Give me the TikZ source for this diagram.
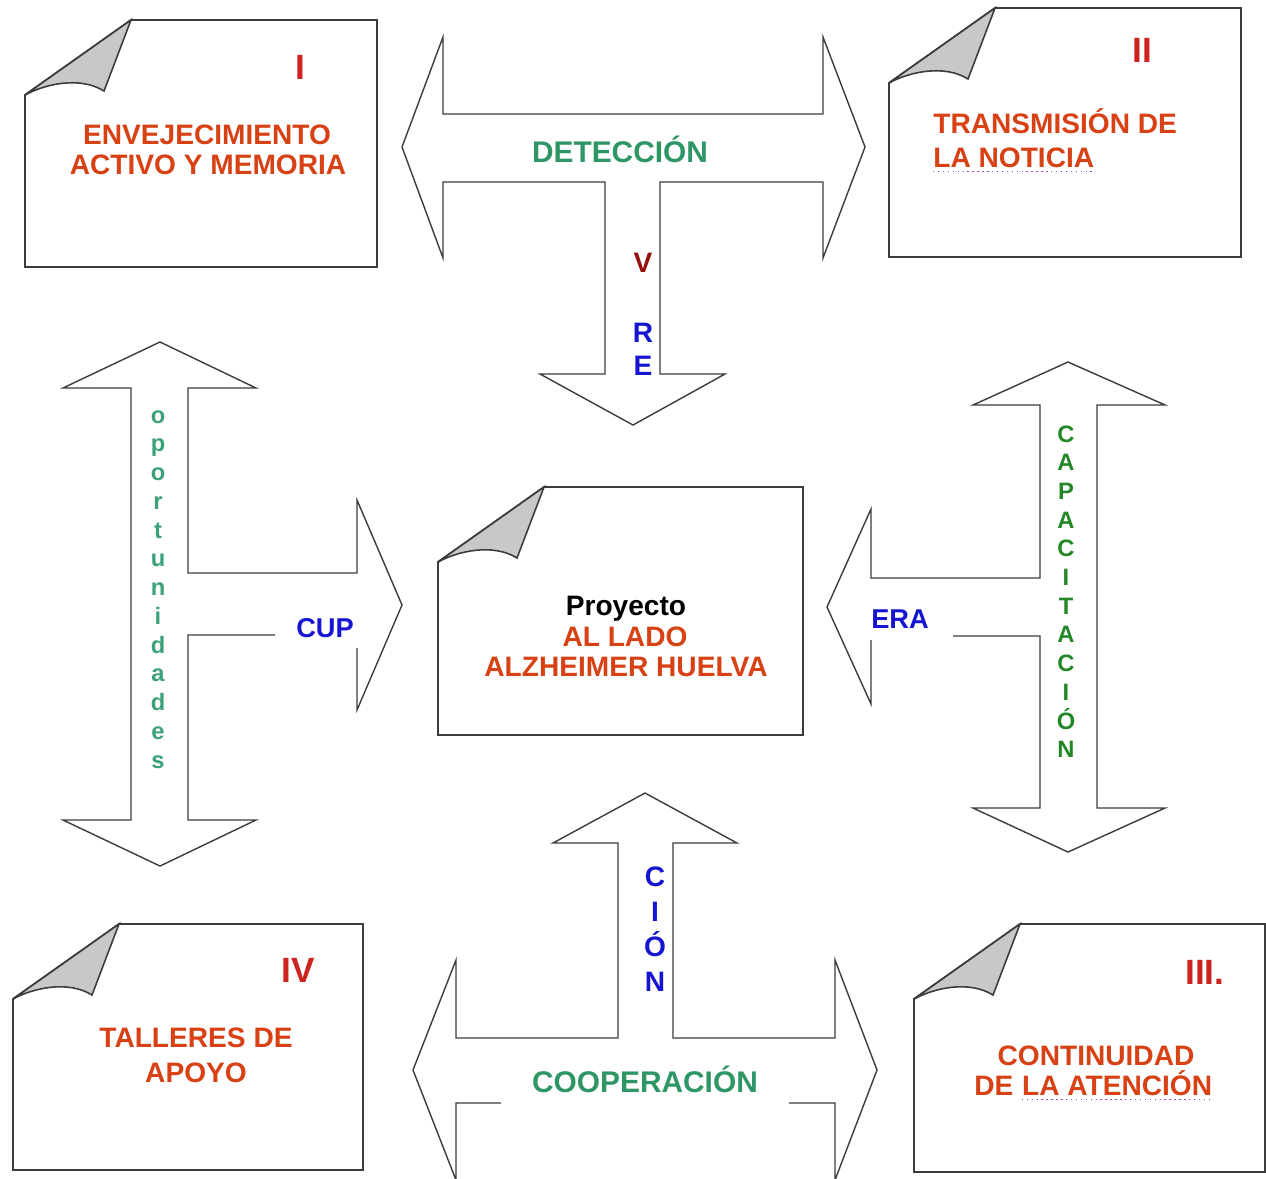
\documentclass[tikz,border=0pt]{standalone}
\usepackage{fontspec}
\setmainfont{Liberation Sans}
\usetikzlibrary{calc}

\definecolor{pagered}{RGB}{215,65,20}
\definecolor{numred}{RGB}{205,35,30}
\definecolor{seagreen}{RGB}{46,150,100}
\definecolor{oppgreen}{RGB}{60,160,120}
\definecolor{capgreen}{RGB}{35,135,40}
\definecolor{lblblue}{RGB}{20,20,210}
\definecolor{vred}{RGB}{150,15,15}
\definecolor{foldgray}{RGB}{200,200,200}
\definecolor{edgegray}{RGB}{60,60,60}
\definecolor{spellpurple}{RGB}{160,70,200}

\tikzset{
	pageline/.style={draw=edgegray, line width=1.1pt, line join=miter},
	foldline/.style={draw=edgegray, line width=0.9pt, fill=foldgray},
	blockarrow/.style={draw=edgegray, line width=0.8pt, line join=miter},
	pagetext/.style={inner sep=0pt, anchor=base, text=pagered, font=\fontsize{16}{16.5}\selectfont\bfseries},
	numtext/.style={inner sep=0pt, anchor=base, text=numred, font=\fontsize{20}{22}\selectfont\bfseries},
	flowtext/.style={inner sep=0pt, anchor=base, text=seagreen, font=\fontsize{17}{18}\selectfont\bfseries},
	vertletter/.style={inner sep=0pt, anchor=base, font=\fontsize{16}{16}\selectfont\bfseries},
	spellmark/.style={draw=spellpurple, line width=0.8pt, dotted}
}

% page with a curled top left corner, #1 = top left, #2 = bottom right
\newcommand{\drawFoldedPage}[2]{
	\draw[pageline] ($(#1)+(106,0)$) -- (#2 |- #1) -- (#2) -- (#1 |- #2) -- ($(#1)+(0,75)$) -- cycle;
	\draw[foldline] ($(#1)+(0,75)$) .. controls ($(#1)+(20,64)$) and ($(#1)+(55,56)$) .. ($(#1)+(79,71)$) -- ($(#1)+(106,0)$) -- cycle;
}

\begin{document}
\begin{tikzpicture}[x=0.02cm, y=-0.02cm]
	\useasboundingbox (0,0) rectangle (1266,1178);
	\clip (0,0) rectangle (1266,1178);

	\coordinate (PG1_TL) at (25,20);
	\coordinate (PG1_BR) at (377,267);
	\coordinate (PG2_TL) at (889,8);
	\coordinate (PG2_BR) at (1241,257);
	\coordinate (PG3_TL) at (914,924);
	\coordinate (PG3_BR) at (1265,1172);
	\coordinate (PG4_TL) at (13,924);
	\coordinate (PG4_BR) at (363,1170);
	\coordinate (PGC_TL) at (438,487);
	\coordinate (PGC_BR) at (803,735);

	\drawFoldedPage{PG1_TL}{PG1_BR}
	\drawFoldedPage{PG2_TL}{PG2_BR}
	\drawFoldedPage{PG3_TL}{PG3_BR}
	\drawFoldedPage{PG4_TL}{PG4_BR}
	\drawFoldedPage{PGC_TL}{PGC_BR}

	% block arrows
	\draw[blockarrow] (443,114) -- (443,37) -- (402,147) -- (443,258) -- (443,182) -- (605,182) -- (605,374) -- (540,374) -- (633,425) -- (725,374) -- (660,374) -- (660,182) -- (823,182) -- (823,258) -- (865,147) -- (823,37) -- (823,114) -- cycle;
	\draw[blockarrow] (357,648) -- (357,710) -- (402,605) -- (357,500) -- (357,573) -- (188,573) -- (188,388) -- (256,388) -- (160,342) -- (63,388) -- (131,388) -- (131,820) -- (63,820) -- (160,866) -- (256,820) -- (188,820) -- (188,635) -- (275,635);
	\draw[blockarrow] (953,636) -- (1040,636) -- (1040,808) -- (973,808) -- (1068,852) -- (1165,808) -- (1097,808) -- (1097,405) -- (1165,405) -- (1068,362) -- (973,405) -- (1040,405) -- (1040,578) -- (871,578) -- (871,509) -- (827,607) -- (871,704) -- (871,640);
	\draw[blockarrow] (501,1103) -- (456,1103) -- (456,1180) -- (413,1070) -- (456,960) -- (456,1038) -- (618,1038) -- (618,843) -- (553,843) -- (645,793) -- (737,843) -- (673,843) -- (673,1038) -- (835,1038) -- (835,960) -- (877,1070) -- (835,1180) -- (835,1103) -- (789,1103);

	% page texts
	\node[numtext] (numI) at (300,79) {I};
	\node[pagetext] (envejec1) at (207,144) {ENVEJECIMIENTO};
	\node[pagetext] (envejec2) at (208,174) {ACTIVO Y MEMORIA};

	\node[numtext] (numII) at (1142,62) {II};
	\node[pagetext, anchor=base west] (trans1) at (933,133) {TRANSMISIÓN DE};
	\node[pagetext, anchor=base west] (trans2) at (933,167) {LA NOTICIA};
	\draw[spellmark] ([yshift=-2.5pt]trans2.base west) -- ([yshift=-2.5pt]trans2.base east);

	\node[pagetext, text=black] (proyecto) at (626,615) {Proyecto};
	\node[pagetext] (allado) at (625,646) {AL LADO};
	\node[pagetext] (alzheimer) at (626,676) {ALZHEIMER HUELVA};

	\node[numtext] (numIV) at (298,982) {IV};
	\node[pagetext] (talleres1) at (196,1047) {TALLERES DE};
	\node[pagetext] (talleres2) at (196,1082) {APOYO};

	\node[numtext, anchor=base west] (numIII) at (1185,984) {III.};
	\node[pagetext] (contin1) at (1096,1065) {CONTINUIDAD};
	\node[pagetext, anchor=base west] (contin2) at (974,1095) {DE};
	\node[pagetext, anchor=base west] (contin3) at ($(contin2.base east)+(8,0)$) {LA ATENCIÓN};
	\draw[spellmark] ([yshift=-2.5pt]contin3.base west) -- ([yshift=-2.5pt]contin3.base east);

	% arrow texts
	\node[flowtext] (deteccion) at (620,162) {DETECCIÓN};
	\node[flowtext] (cooperacion) at (645,1092) {COOPERACIÓN};
	\node[flowtext, text=lblblue, font=\fontsize{15.5}{16}\selectfont\bfseries] (cup) at (325,637) {CUP};
	\node[flowtext, text=lblblue, font=\fontsize{15.5}{16}\selectfont\bfseries] (era) at (900,628) {ERA};

	\node[vertletter, text=vred] (vreV) at (643,272) {V};
	\node[vertletter, text=lblblue] (vreR) at (643,342) {R};
	\node[vertletter, text=lblblue] (vreE) at (643,375) {E};

	\foreach \ch [count=\i from 0] in {C,I,Ó,N}
		\node[vertletter, text=lblblue] (cion\i) at (655,{886+35.3*\i}) {\ch};

	\foreach \ch [count=\i from 0] in {o,p,o,r,t,u,n,i,d,a,d,e,s}
		\node[vertletter, text=oppgreen, font=\fontsize{13.5}{14}\selectfont\bfseries] (opp\i) at (158,{423+28.75*\i}) {\ch};

	\foreach \ch [count=\i from 0] in {C,A,P,A,C,I,T,A,C,I,Ó,N}
		\node[vertletter, text=capgreen, font=\fontsize{13.5}{14}\selectfont\bfseries] (cap\i) at (1066,{442+28.7*\i}) {\ch};
\end{tikzpicture}
\end{document}
